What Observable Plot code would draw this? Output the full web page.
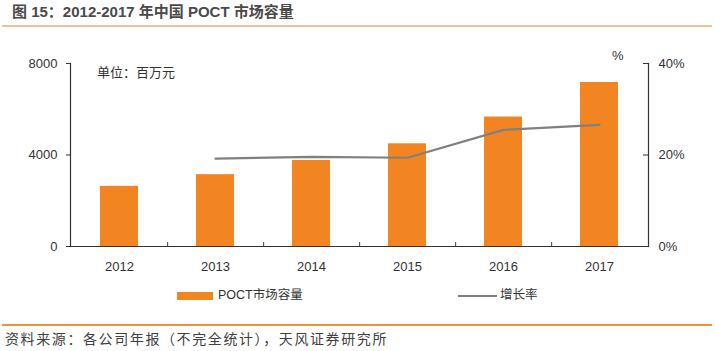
<!DOCTYPE html>
<html>
<head>
<meta charset="utf-8">
<script src="https://cdn.jsdelivr.net/npm/d3@7"></script>
<script src="https://cdn.jsdelivr.net/npm/@observablehq/plot@0.6"></script>
<style>
  html, body { margin: 0; padding: 0; background: #fff; }
  #wrap { position: relative; width: 715px; height: 351px; overflow: hidden; font-family: "Liberation Sans", "Noto Sans CJK SC", sans-serif; }
  #wrap svg { position: absolute; left: 0; top: 0; }
  .abs { position: absolute; white-space: nowrap; line-height: 1; }
  #title { left: 12px; top: 4px; font-size: 15px; font-weight: bold; color: #4a4a4a; font-family: "Liberation Sans", "Noto Sans CJK SC", sans-serif; }
  #topline { left: 2px; top: 25px; width: 710px; height: 2px; background: #e9c29c; }
  #botline { left: 2px; top: 324px; width: 710px; height: 2px; background: #f0913c; }
  #source { left: 5px; top: 331px; font-size: 14px; letter-spacing: 1.6px; color: #404040; font-family: "Noto Sans CJK SC", sans-serif; }
  #unit { left: 97px; top: 65px; font-size: 13px; color: #333; font-family: "Noto Sans CJK SC", sans-serif; }
  #pct { left: 612px; top: 49px; font-size: 13px; color: #333; }
  .sw { position: absolute; }
  .lg { font-size: 12.5px; color: #333; font-family: "Liberation Sans", "Noto Sans CJK SC", sans-serif; }
</style>
</head>
<body>
<div id="wrap">
  <div id="chart"></div>
  <div class="abs" id="title">图 15：2012-2017 年中国 POCT 市场容量</div>
  <div class="abs" id="topline"></div>
  <div class="abs" id="unit">单位：百万元</div>
  <div class="abs" id="pct">%</div>
  <div class="sw" style="left:177px;top:292px;width:36px;height:8px;background:#f28522"></div>
  <div class="abs lg" style="left:218px;top:289px;">POCT市场容量</div>
  <div class="sw" style="left:458px;top:295px;width:39px;height:2px;background:#7f7f7f"></div>
  <div class="abs lg" style="left:500px;top:289px;">增长率</div>
  <div class="abs" id="botline"></div>
  <div class="abs" id="source">资料来源：各公司年报（不完全统计），天风证券研究所</div>
</div>
<script>
const years = ["2012", "2013", "2014", "2015", "2016", "2017"];
const marketSize = [2630, 3140, 3760, 4490, 5660, 7170];
const growthYears = ["2013", "2014", "2015", "2016", "2017"];
const growthRate = [19.2, 19.6, 19.4, 25.5, 26.6];
const leftTicks = [0, 4000, 8000];
const rightTickLabels = ["0%", "20%", "40%"];

const W = 715, H = 351, ML = 70, MR = 67, MT = 63, MB = 105;
const pIn = 0.6, pOut = 0.3;
const step = (W - ML - MR) / (years.length - pIn + 2 * pOut);
const ratio = 8000 / 40; // left units per percent

const bars = years.map((y, i) => ({year: y, value: marketSize[i]}));
const growth = growthYears.map((y, i) => ({year: y, g: growthRate[i]}));

const chart = Plot.plot({
  width: W, height: H,
  marginLeft: ML, marginRight: MR, marginTop: MT, marginBottom: MB,
  style: {fontFamily: "Liberation Sans, sans-serif", fontSize: "13px", color: "#333", background: "transparent"},
  x: {domain: years, paddingInner: pIn, paddingOuter: pOut, axis: null, label: null},
  y: {domain: [0, 8000], axis: null, label: null},
  marks: [
    Plot.barY(bars, {x: "year", y: "value", fill: "#f28522"}),
    Plot.line(growth, {x: "year", y: d => d.g * ratio, stroke: "#808080", strokeWidth: 2.2}),
    Plot.ruleY([0], {stroke: "#333", strokeWidth: 1.2}),
    Plot.frame({anchor: "left", stroke: "#333", strokeWidth: 1.2}),
    Plot.frame({anchor: "right", stroke: "#333", strokeWidth: 1.2}),
    Plot.ruleX(years.slice(0, -1), {x: d => d, y1: 0, y2: 170, dx: step / 2, stroke: "#333"}),
    Plot.axisX({tickSize: 0, tickPadding: 15, fontSize: 13, fill: "#333", label: null}),
    Plot.axisY({anchor: "left", ticks: leftTicks, tickSize: 4, tickPadding: 9, fontSize: 13, fill: "#333", stroke: "#333",
      label: null, tickFormat: d => String(d)}),
    Plot.axisY({anchor: "right", ticks: leftTicks, tickSize: -6, tickPadding: 16, fontSize: 13, fill: "#333", stroke: "#333",
      label: null, tickFormat: d => rightTickLabels[leftTicks.indexOf(d)]})
  ]
});
document.getElementById("chart").appendChild(chart);
</script>
</body>
</html>
